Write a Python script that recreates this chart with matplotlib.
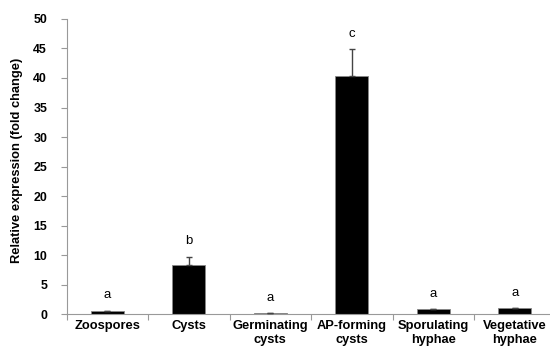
import numpy as np
import matplotlib
matplotlib.use("Agg")
import matplotlib.pyplot as plt

# Data
stages = ["Zoospores", "Cysts", "Germinating\ncysts", "AP-forming\ncysts",
          "Sporulating\nhyphae", "Vegetative\nhyphae"]
means = [0.6, 8.4, 0.15, 40.3, 0.8, 1.0]
errors = [0.0, 1.3, 0.0, 4.6, 0.0, 0.0]
letters = ["a", "b", "a", "c", "a", "a"]

plt.rcParams['font.family'] = ['Liberation Sans', 'DejaVu Sans']

fig = plt.figure(figsize=(5.5, 3.51), dpi=100)
ax = fig.add_axes([0.121, 0.105, 0.889, 0.841])

x = np.arange(len(stages))
ax.bar(x, means, width=0.41, color="black", edgecolor="#888888", linewidth=0.6, zorder=2)
ax.errorbar(x, means, yerr=[np.zeros(len(errors)), errors], fmt="none",
            ecolor="#444444", elinewidth=1, capsize=2.5, capthick=1, zorder=3)

for xi, m, e, lab in zip(x, means, errors, letters):
    ax.text(xi, m + e + 1.6, lab, ha="center", va="bottom", fontsize=9.5)

ax.set_xlim(-0.5, len(stages) - 0.5)
ax.set_ylim(0, 50)
ax.set_yticks(np.arange(0, 51, 5))
ax.set_xticks(np.arange(-0.5, len(stages), 1.0))
ax.set_xticklabels([])
ax.set_xticks(x, minor=True)
ax.set_xticklabels(stages, minor=True, fontweight="bold", fontsize=9.3)
ax.tick_params(axis="x", which="minor", length=0, pad=4)
ax.tick_params(axis="x", which="major", length=4, color="#999999")
ax.tick_params(axis="y", length=4, color="#999999", labelsize=8.9, pad=10)
for t in ax.get_yticklabels():
    t.set_fontweight("bold")

ax.set_ylabel("Relative expression (fold change)", fontweight="bold", fontsize=9.3)
ax.yaxis.set_label_coords(-0.089, 0.522)
for s in ["top", "right"]:
    ax.spines[s].set_visible(False)
for s in ["left", "bottom"]:
    ax.spines[s].set_color("#999999")

fig.savefig("out.png", dpi=100)
